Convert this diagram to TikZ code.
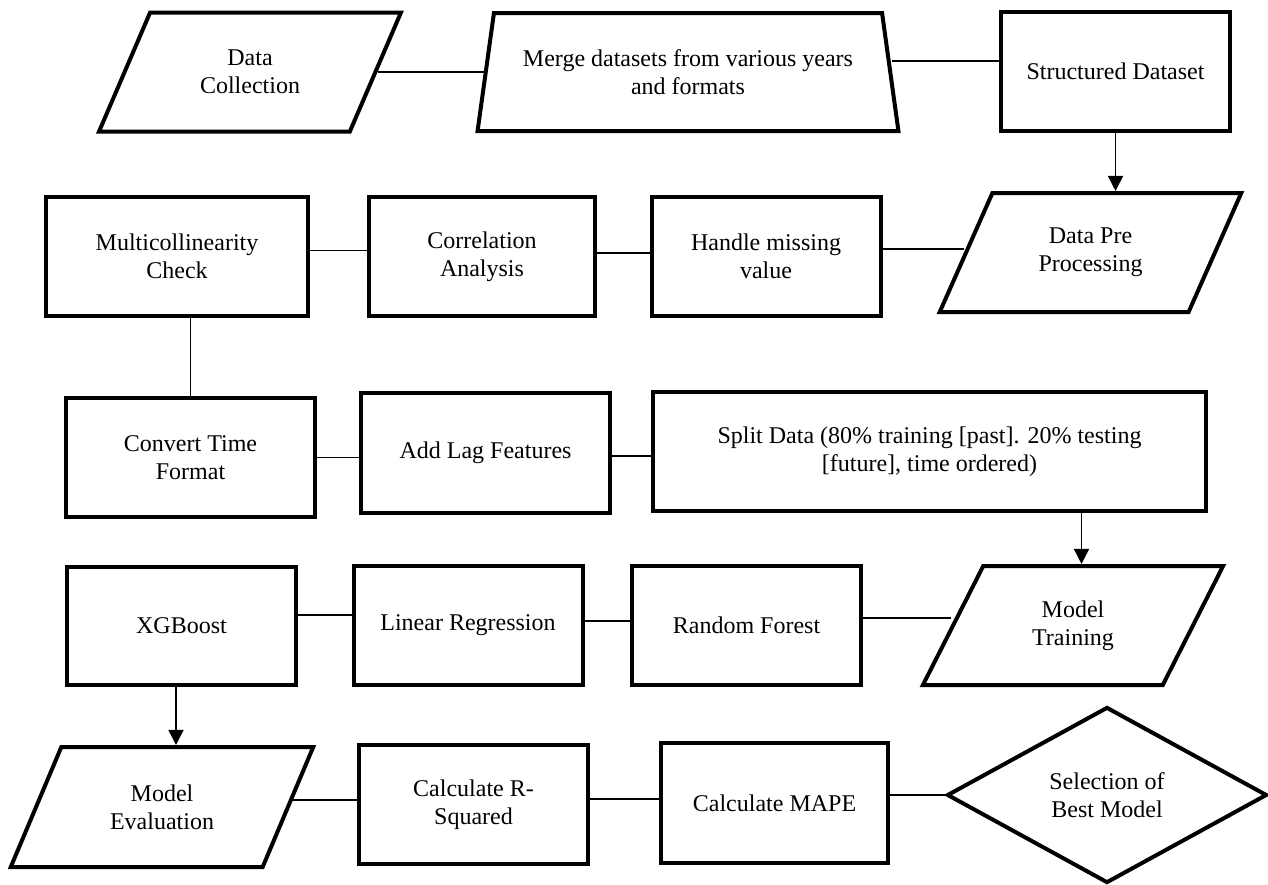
\documentclass[tikz,border=0pt]{standalone}
\usepackage{fontspec}
\setmainfont{Liberation Serif}
\usepackage{tikz}
\usetikzlibrary{positioning}
\usetikzlibrary{arrows.meta,shapes.geometric}

\begin{document}
\begin{tikzpicture}[x = 0.5pt, y = -0.5pt,
                    font = \fontsize{12}{13.8}\selectfont,
                    line width = 0.75pt,
                    proc/.style = {rectangle,
                                   draw,
                                   line width = 2pt,
                                   align = center,
                                   minimum width = 114.5pt,
                                   minimum height = 59.5pt},
                    io/.style   = {trapezium,
                                   trapezium left angle = 63,
                                   trapezium right angle = 117,
                                   trapezium stretches = true,
                                   draw,
                                   line width = 2pt,
                                   align = center,
                                   minimum width = 152pt,
                                   minimum height = 59.5pt},
                    flow/.style = {-{Triangle[width = 7.5pt, length = 7.5pt]}}]

\useasboundingbox (0,0) rectangle (1268,884);

% row 1
\node[io] (DC) at (250,72) {Data\\Collection};
\node[trapezium, trapezium left angle = 76, trapezium right angle = 76,
      trapezium stretches = true, draw, line width = 2pt, align = center,
      minimum width = 211pt, minimum height = 59pt]
      (Merge) at (688,72) {Merge datasets from various years\\and formats};
\node[proc] (SD) at (1115.5,71) {Structured Dataset};

% row 2
\node[proc] (MC) [minimum width = 131pt] at (177,256.5) {Multicollinearity\\Check};
\node[proc] (Corr) [minimum width = 113pt] at (482,256.5) {Correlation\\Analysis};
\node[proc] (HM) at (766,256.5) {Handle missing\\value};
\node[io] (DPP) at (1090.5,252.5) {Data Pre\\Processing};

% row 3
\node[proc] (CT) [minimum width = 124.5pt] at (190.5,457.5) {Convert Time\\Format};
\node[proc] (ALF) [minimum width = 124.5pt, minimum height = 60pt] at (485.5,453) {Add Lag Features};
\node[proc] (Split) [minimum width = 276.5pt] at (929.5,451.5)
      {Split Data (80\% training [past]. 20\% testing\\{}[future], time ordered)};

% row 4
\node[proc] (XGB) [minimum height = 59pt] at (181.5,626) {XGBoost};
\node[proc] (LR) at (468,625.5) {Linear Regression};
\node[proc] (RF) at (746.5,625.5) {Random Forest};
\node[io] (MT) [minimum width = 151pt] at (1073,625.5) {Model\\Training};

% row 5
\node[io] (ME) [minimum height = 60pt] at (162,807) {Model\\Evaluation};
\node[proc] (CR) at (473.5,804.5) {Calculate R-\\Squared};
\node[proc] (MAPE) [minimum width = 113.5pt, minimum height = 60pt] at (774.5,803) {Calculate MAPE};
\node[diamond, aspect = 1.82, draw, line width = 2pt, align = center,
      minimum width = 160pt, minimum height = 88pt]
      (Best) at (1107,795) {Selection of\\Best Model};

\path (DC.east) edge (DC.east -| Merge.west);
\path ([yshift = 5.5pt]Merge.east) edge ([yshift = 5.5pt]Merge.east -| SD.west);
\path (SD.south) edge [flow] (SD.south |- DPP.north);

\path ([yshift = 3pt]MC.east) edge ([yshift = 3pt]MC.east -| Corr.west);
\path ([yshift = 1.75pt]Corr.east) edge ([yshift = 1.75pt]Corr.east -| HM.west);
\path ([yshift = 3.75pt]HM.east) edge ([yshift = 3.75pt]HM.east -| DPP.west);
\path (CT.north) edge (CT.north |- MC.south);

\path (CT.east) edge (CT.east -| ALF.west);
\path ([yshift = -1.5pt]ALF.east) edge ([yshift = -1.5pt]ALF.east -| Split.west);
\path ([xshift = 76pt]Split.south) edge [flow] ([xshift = 76pt]Split.south |- MT.north);

\path ([yshift = 5.5pt]XGB.east) edge ([yshift = 5.5pt]XGB.east -| LR.west);
\path ([yshift = 2.25pt]LR.east) edge ([yshift = 2.25pt]LR.east -| RF.west);
\path ([yshift = 3.75pt]RF.east) edge ([yshift = 3.75pt]RF.east -| MT.west);
\path ([xshift = -2.75pt]XGB.south) edge [flow] ([xshift = -2.75pt]XGB.south |- ME.north);

\path ([yshift = 2.25pt]CR.west) edge ([yshift = 2.25pt]CR.west -| ME.east);
\path ([yshift = 2.75pt]CR.east) edge ([yshift = 2.75pt]CR.east -| MAPE.west);
\path (Best.west) edge (Best.west -| MAPE.east);

\end{tikzpicture}
\end{document}
